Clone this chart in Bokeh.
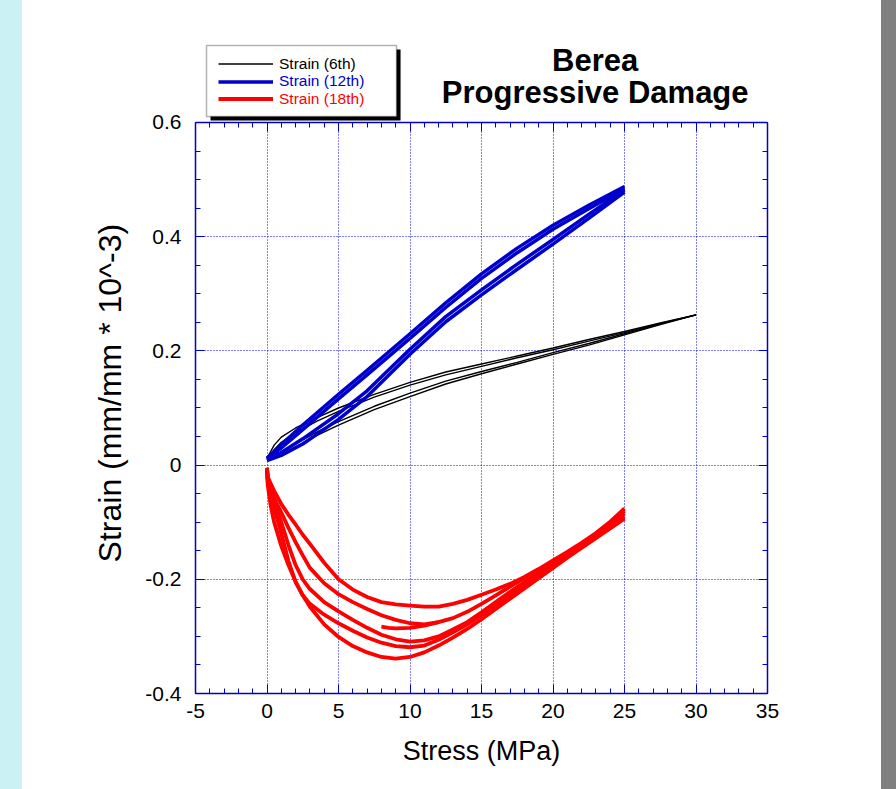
from bokeh.plotting import figure
from bokeh.models import (Range1d, LinearAxis, Legend, LegendItem, Label,
                          BoxAnnotation, Div, FixedTicker)
from bokeh.layouts import row
from bokeh.embed import file_html
from bokeh.resources import INLINE

FONT = "Liberation Sans"

# ---------------- data ----------------
# Strain (6th) - black, thin: two upper (unloading) and two lower (loading) traces
b_x = [0, 0.5, 1, 2, 3.5, 5, 7.5, 10, 12.5, 15, 17.5, 20, 22.5, 25, 27.5, 30]
b_up1 = [0.012, 0.035, 0.049, 0.065, 0.083, 0.100, 0.124, 0.145, 0.163, 0.177, 0.191, 0.205, 0.220, 0.234, 0.249, 0.263]
b_up2 = [0.010, 0.027, 0.040, 0.057, 0.077, 0.094, 0.119, 0.140, 0.158, 0.173, 0.188, 0.202, 0.217, 0.232, 0.248, 0.263]
b_lo1 = [0.010, 0.014, 0.018, 0.032, 0.052, 0.070, 0.097, 0.120, 0.142, 0.160, 0.177, 0.194, 0.210, 0.228, 0.246, 0.263]
b_lo2 = [0.010, 0.016, 0.022, 0.037, 0.058, 0.076, 0.103, 0.126, 0.147, 0.164, 0.180, 0.197, 0.213, 0.230, 0.247, 0.263]

# Strain (12th) - blue, thick
u_x = [0, 1, 2.5, 5, 7, 8.5, 10, 12.5, 15, 17.5, 20, 22.5, 25]
u_up1 = [0.012, 0.036, 0.070, 0.124, 0.166, 0.198, 0.230, 0.284, 0.335, 0.380, 0.420, 0.455, 0.488]
u_up2 = [0.012, 0.030, 0.062, 0.116, 0.158, 0.190, 0.222, 0.276, 0.327, 0.372, 0.413, 0.449, 0.484]
l_x = [0, 1, 2.5, 5, 7, 10, 12.5, 15, 17.5, 20, 22.5, 25]
l_lo1 = [0.010, 0.022, 0.046, 0.090, 0.130, 0.203, 0.260, 0.307, 0.352, 0.395, 0.439, 0.482]
l_lo2 = [0.008, 0.017, 0.037, 0.080, 0.120, 0.194, 0.251, 0.298, 0.343, 0.387, 0.432, 0.478]

# Strain (18th) - red, thick
r_x = [0, 0.05, 0.25, 0.5, 1, 1.5, 2, 2.5, 3, 4, 5, 6, 7, 8, 9, 10, 11, 12, 13, 14, 15,
       16, 17, 18, 19, 20, 21, 22, 23, 24, 25]
r_a = [-0.005, -0.020, -0.032, -0.045, -0.068, -0.087, -0.104, -0.122, -0.138, -0.171, -0.200,
       -0.218, -0.231, -0.240, -0.244, -0.246, -0.248, -0.248, -0.243, -0.236, -0.227,
       -0.218, -0.208, -0.196, -0.182, -0.167, -0.152, -0.136, -0.119, -0.099, -0.076]
r_b = [-0.005, -0.022, -0.040, -0.058, -0.083, -0.110, -0.135, -0.158, -0.180, -0.207, -0.226,
       -0.240, -0.252, -0.263, -0.271, -0.277, -0.279, -0.275, -0.268, -0.257, -0.243,
       -0.228, -0.213, -0.198, -0.184, -0.169, -0.154, -0.138, -0.122, -0.104, -0.080]
r_c = [-0.005, -0.025, -0.045, -0.064, -0.100, -0.140, -0.175, -0.200, -0.217, -0.240, -0.256,
       -0.271, -0.285, -0.297, -0.305, -0.309, -0.307, -0.300, -0.288, -0.275, -0.258,
       -0.240, -0.222, -0.205, -0.189, -0.172, -0.156, -0.139, -0.122, -0.105, -0.085]
r_d = [-0.005, -0.028, -0.050, -0.075, -0.120, -0.168, -0.205, -0.228, -0.243, -0.262, -0.277,
       -0.290, -0.302, -0.311, -0.317, -0.319, -0.316, -0.306, -0.293, -0.279, -0.263,
       -0.246, -0.228, -0.211, -0.194, -0.177, -0.160, -0.143, -0.126, -0.108, -0.090]
r_e = [-0.005, -0.035, -0.070, -0.100, -0.142, -0.175, -0.204, -0.228, -0.248, -0.279, -0.301,
       -0.317, -0.328, -0.336, -0.339, -0.336, -0.328, -0.316, -0.302, -0.287, -0.270,
       -0.252, -0.234, -0.216, -0.198, -0.180, -0.162, -0.145, -0.128, -0.111, -0.094]
r_fx = [8, 8.5, 9, 10, 11, 12]
r_f = [-0.283, -0.285, -0.286, -0.285, -0.281, -0.275]

x_ticks = [-5, 0, 5, 10, 15, 20, 25, 30, 35]
x_tick_labels = ["-5", "0", "5", "10", "15", "20", "25", "30", "35"]
y_ticks = [-0.4, -0.2, 0, 0.2, 0.4, 0.6]
y_tick_labels = ["-0.4", "-0.2", "0", "0.2", "0.4", "0.6"]
x_minor = [v for v in range(-5, 36)]
y_minor = [round(-0.4 + 0.05 * i, 2) for i in range(21)]

series_labels = ["Strain (6th)", "Strain (12th)", "Strain (18th)"]
series_colors = ["#000000", "#0000CC", "#FF0000"]

AX = "#0000CC"
X0, X1 = -5, 35
Y0, Y1 = -0.4, 0.6
Y_TOP = 0.7611  # room above the plot box for legend and title

# ---------------- figure ----------------
p = figure(width=859, height=789, x_range=Range1d(X0, X1), y_range=Range1d(Y0, Y_TOP),
           output_backend="svg", toolbar_location=None,
           min_border_left=173, min_border_right=114, min_border_top=30, min_border_bottom=96)
p.background_fill_color = "white"
p.border_fill_color = "white"
p.outline_line_color = None

xt = FixedTicker(ticks=x_ticks, minor_ticks=x_minor)
yt = FixedTicker(ticks=y_ticks, minor_ticks=y_minor)


def style_axis(ax, ticker, labels, show):
    ax.ticker = ticker
    ax.axis_line_color = AX
    ax.axis_line_width = 1.5
    ax.major_tick_line_color = AX
    ax.minor_tick_line_color = AX
    ax.major_tick_line_width = 1
    ax.minor_tick_line_width = 1
    ax.major_tick_in = 9
    ax.major_tick_out = 0
    ax.minor_tick_in = 5
    ax.minor_tick_out = 0
    if show:
        ax.major_label_overrides = {t: s for t, s in zip(ticker.ticks, labels)}
        ax.major_label_text_font = FONT
        ax.major_label_text_font_size = "21px"
        ax.major_label_text_color = "black"
    else:
        ax.major_label_text_font_size = "0px"
        ax.major_label_text_color = None


style_axis(p.xaxis[0], xt, x_tick_labels, True)
style_axis(p.yaxis[0], yt, y_tick_labels, True)
p.yaxis[0].bounds = (Y0, Y1)
p.xaxis.major_label_standoff = 10
p.yaxis.major_label_standoff = 14
p.xaxis.axis_label = "Stress (MPa)"
# trailing no-break spaces keep the visible label centred on the plot box, not the taller frame
p.yaxis.axis_label = "Strain (mm/mm * 10^-3)" + "\u00a0" * 7
for ax, fs in ((p.xaxis[0], "27px"), (p.yaxis[0], "32px")):
    ax.axis_label_text_font = FONT
    ax.axis_label_text_font_size = fs
    ax.axis_label_text_font_style = "normal"
    ax.axis_label_text_color = "black"
p.xaxis.axis_label_standoff = 15
p.yaxis.axis_label_standoff = 14

top_ax = LinearAxis(fixed_location=Y1, bounds=(X0, X1))
style_axis(top_ax, xt, x_tick_labels, False)
p.add_layout(top_ax, "above")
right_ax = LinearAxis(bounds=(Y0, Y1))
style_axis(right_ax, yt, y_tick_labels, False)
p.add_layout(right_ax, "right")

p.xgrid.ticker = xt
p.ygrid.ticker = yt
for g in (p.xgrid[0], p.ygrid[0]):
    g.grid_line_color = "#0000FF"
    g.grid_line_dash = "1 2"
    g.grid_line_width = 1
    g.grid_line_alpha = 1.0

# white cover for the grid above the plot box (header area)
p.add_layout(BoxAnnotation(bottom=Y1, fill_color="white", fill_alpha=1, line_color=None,
                           level="underlay"))

# ---------------- lines ----------------
black_r = None
for ys in (b_up1, b_up2, b_lo1, b_lo2):
    black_r = p.line(b_x, ys, line_color=series_colors[0], line_width=1.4)

blue_r = None
for xs, ys in ((u_x, u_up1), (u_x, u_up2), (l_x, l_lo1), (l_x, l_lo2)):
    blue_r = p.line(xs, ys, line_color=series_colors[1], line_width=3.5, line_join="round")

red_r = None
for ys in (r_a, r_b, r_c, r_d, r_e):
    red_r = p.line(r_x, ys, line_color=series_colors[2], line_width=3.8, line_join="round")
p.line(r_fx, r_f, line_color=series_colors[2], line_width=3.8, line_join="round")

# ---------------- legend box with shadow ----------------
shadow = BoxAnnotation(left=-3.95, right=9.34, top=0.728, bottom=0.6035,
                       fill_color="black", fill_alpha=1, line_color=None)
box = BoxAnnotation(left=-4.23, right=9.06, top=0.735, bottom=0.6105,
                    fill_color="white", fill_alpha=1, line_color="black", line_width=1.5)
p.add_layout(shadow)
p.add_layout(box)

rows_vy = [620.5, 603, 585.5]
for lab, col, rend, vy in zip(series_labels, series_colors, (black_r, blue_r, red_r), rows_vy):
    lg = Legend(items=[LegendItem(label=lab, renderers=[rend])], location=(23, vy),
                border_line_color=None, background_fill_alpha=0, padding=0, margin=0,
                glyph_width=55, glyph_height=17, label_height=17, label_standoff=6,
                spacing=0, label_text_font=FONT, label_text_font_size="15.5px",
                label_text_color=col)
    p.add_layout(lg)

# ---------------- title ----------------
p.add_layout(Label(x=22.95, y=0.7085, text="Berea", text_align="center",
                   text_baseline="alphabetic", text_font=FONT, text_font_size="31px",
                   text_font_style="bold", text_color="black"))
p.add_layout(Label(x=22.95, y=0.6531, text="Progressive Damage", text_align="center",
                   text_baseline="alphabetic", text_font=FONT, text_font_size="31px",
                   text_font_style="bold", text_color="black"))

left_band = Div(text="", width=22, height=789, margin=0,
                styles={"background-color": "#CCF1F4"})
right_band = Div(text="", width=15, height=789, margin=0,
                 styles={"background-color": "#808080"})
layout = row(left_band, p, right_band)

open("out.html", "w").write(file_html(layout, INLINE))
